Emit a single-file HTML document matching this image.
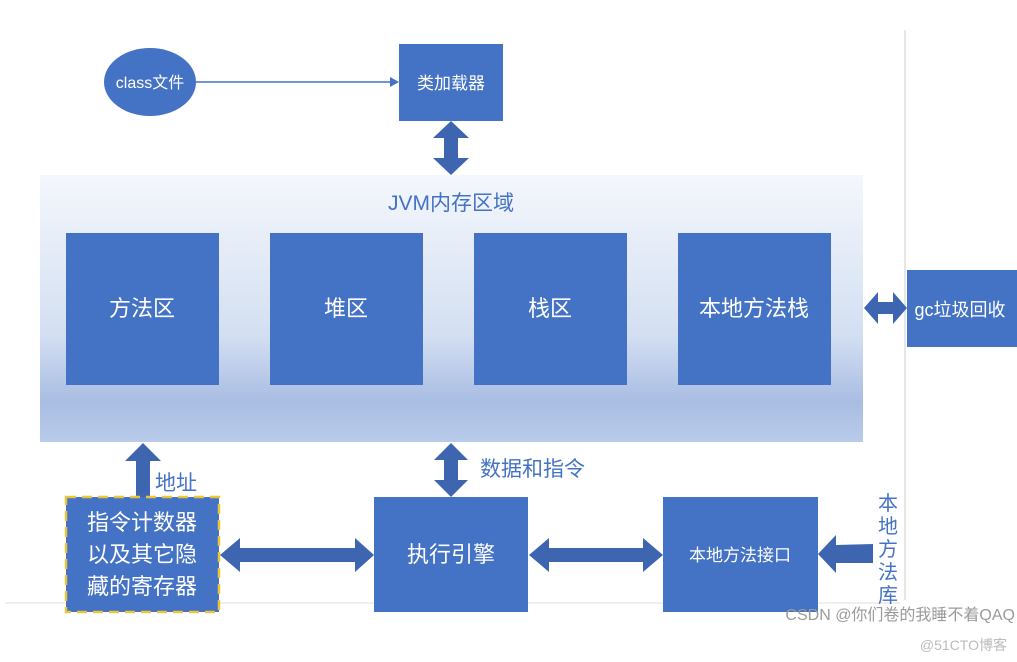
<!DOCTYPE html>
<html><head><meta charset="utf-8"><style>
html,body{margin:0;padding:0;background:#fff;}
svg{display:block;}
text{font-family:"Liberation Sans","Noto Sans CJK SC",sans-serif;}
</style></head><body>
<svg width="1017" height="662" viewBox="0 0 1017 662" xmlns="http://www.w3.org/2000/svg">
<defs>
<linearGradient id="g" x1="0" y1="0" x2="0" y2="1">
<stop offset="0" stop-color="#f4f7fc"/>
<stop offset="0.6" stop-color="#d3dff2"/>
<stop offset="0.85" stop-color="#a9bde3"/>
<stop offset="1" stop-color="#b9cbea"/>
</linearGradient>
</defs>
<line x1="905" y1="30" x2="905" y2="600" stroke="#e6e6e6" stroke-width="2"/>
<line x1="5" y1="603" x2="900" y2="603" stroke="#eaeaea" stroke-width="1.5"/>
<rect x="40" y="175" width="823" height="267" fill="url(#g)"/>
<ellipse cx="150" cy="82" rx="46" ry="34" fill="#4472c4"/>
<text x="150" y="88" font-size="16" fill="#fff" text-anchor="middle">class文件</text>
<line x1="196" y1="82" x2="392" y2="82" stroke="#4472c4" stroke-width="1.5"/>
<polygon points="399,82 390,77 390,87" fill="#4472c4"/>
<rect x="399" y="44" width="104" height="77" fill="#4472c4"/>
<text x="451" y="89" font-size="17" fill="#fff" text-anchor="middle">类加载器</text>
<polygon points="451,121 469,138 458,138 458,158 469,158 451,175 433,158 444,158 444,138 433,138" fill="#3d65b0"/>
<text x="451" y="210" font-size="21" fill="#4472c4" text-anchor="middle">JVM内存区域</text>
<rect x="66" y="233" width="153" height="152" fill="#4472c4"/>
<rect x="270" y="233" width="153" height="152" fill="#4472c4"/>
<rect x="474" y="233" width="153" height="152" fill="#4472c4"/>
<rect x="678" y="233" width="153" height="152" fill="#4472c4"/>
<g font-size="22" fill="#fff" text-anchor="middle">
<text x="142" y="316">方法区</text>
<text x="346" y="316">堆区</text>
<text x="550" y="316">栈区</text>
<text x="754" y="316">本地方法栈</text>
</g>
<polygon points="864,308 878,292 878,302 893,302 893,292 907,308 893,324 893,314 878,314 878,324" fill="#3d65b0"/>
<rect x="907" y="270" width="110" height="77" fill="#4472c4"/>
<text x="960" y="316" font-size="18" fill="#fff" text-anchor="middle">gc垃圾回收</text>
<polygon points="451,443 468,460 458,460 458,480 468,480 451,497 434,480 444,480 444,460 434,460" fill="#3d65b0"/>
<text x="480" y="476" font-size="21" fill="#4472c4">数据和指令</text>
<polygon points="143,443 161,461 150,461 150,497 136,497 136,461 125,461" fill="#3d65b0"/>
<text x="155" y="490" font-size="21" fill="#4472c4">地址</text>
<rect x="66" y="497" width="153" height="115" fill="#4472c4" stroke="#e8c53a" stroke-width="2.5" stroke-dasharray="10,6"/>
<g font-size="22" fill="#fff" text-anchor="middle">
<text x="142" y="530">指令计数器</text>
<text x="142" y="562">以及其它隐</text>
<text x="142" y="594">藏的寄存器</text>
</g>
<polygon points="220,555 240,538 240,548 355,548 355,538 374,555 355,572 355,562 240,562 240,572" fill="#3d65b0"/>
<rect x="374" y="497" width="154" height="115" fill="#4472c4"/>
<text x="451" y="562" font-size="22" fill="#fff" text-anchor="middle">执行引擎</text>
<polygon points="529,555 549,538 549,548 643,548 643,538 663,555 643,572 643,562 549,562 549,572" fill="#3d65b0"/>
<rect x="663" y="497" width="155" height="115" fill="#4472c4"/>
<text x="740" y="561" font-size="17" fill="#fff" text-anchor="middle">本地方法接口</text>
<polygon points="818,554 836,535 836,545 873,544 873,563 836,563 836,573" fill="#3d65b0"/>
<g font-size="20" fill="#4472c4" text-anchor="middle">
<text x="888" y="510">本</text>
<text x="888" y="533">地</text>
<text x="888" y="556">方</text>
<text x="888" y="579">法</text>
<text x="888" y="602">库</text>
</g>
<text x="1015" y="620" font-size="16" fill="#9a9a9a" text-anchor="end">CSDN @你们卷的我睡不着QAQ</text>
<text x="1007" y="650" font-size="14" fill="#bbbbbb" text-anchor="end">@51CTO博客</text>
</svg>
</body></html>
